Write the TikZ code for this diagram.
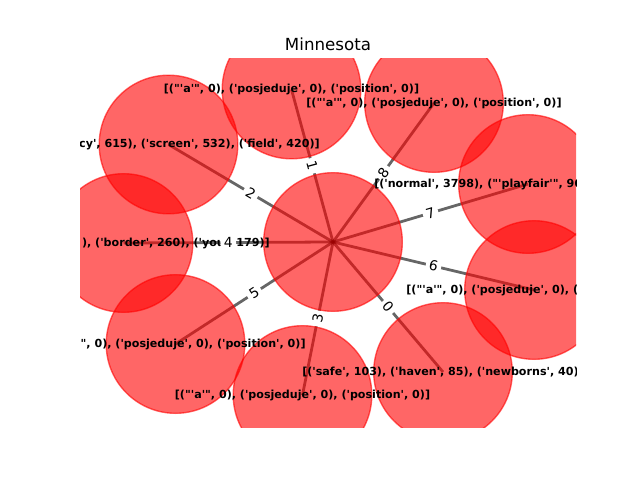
\documentclass[tikz,border=0pt]{standalone}
\usepackage{fontspec}
\newfontfamily\djv{DejaVu Sans}
\begin{document}
\begin{tikzpicture}[x=0.72pt,y=-0.72pt,
  edgeline/.style={draw=black,draw opacity=0.6,line width=2pt},
  nodecircle/.style={circle,minimum size=138.6*0.72pt,inner sep=0pt,fill=red,fill opacity=0.6,draw=red,draw opacity=0.6,line width=1pt},
  nodetext/.style={font=\djv\bfseries\fontsize{8}{9.6}\selectfont,inner sep=0pt,text=black},
  elabel/.style={font=\djv\fontsize{10}{12}\selectfont,fill=white,rounded corners=2pt,inner xsep=2.4pt,inner ysep=1pt,sloped,midway,text=black}]
\useasboundingbox (0,0) rectangle (640,480);
\node[font=\djv\fontsize{12}{14.4}\selectfont] (title) at (328,44) {Minnesota};
\begin{scope}
\clip (80,58) rectangle (576,427);
% node positions
\coordinate (C) at (333,242);
\coordinate (n0) at (443,372);
\coordinate (n1) at (291.5,89.5);
\coordinate (n2) at (168.5,144.5);
\coordinate (n3) at (302.5,395);
\coordinate (n4) at (123.5,243);
\coordinate (n5) at (175.5,344);
\coordinate (n6) at (534,290);
\coordinate (n7) at (528,184);
\coordinate (n8) at (434,103);
% edges
\foreach \i in {0,...,8} { \draw[edgeline] (C) -- (n\i); }
% circles
\node[nodecircle] (cC) at (C) {};
\foreach \i in {0,...,8} { \node[nodecircle] (c\i) at (n\i) {}; }
% edge labels (all but 4)
\foreach \i in {0,1,2,3,5,6,7,8} { \path (C) -- (n\i) node[elabel] (e\i) {\i}; }
% node labels
\def\stdtext{[("'a'", 0), ('posjeduje', 0), ('position', 0)]}
\node[nodetext] (t0) at (n0) {[('safe', 103), ('haven', 85), ('newborns', 40)]};
\node[nodetext] (t1) at (n1) {\stdtext};
\node[nodetext,anchor=east] (t2) at (320,144.5) {cy', 615), ('screen', 532), ('field', 420)]};
\node[nodetext] (t3) at (n3) {\stdtext};
\node[nodetext,anchor=east] (t4) at (270,243) {), ('border', 260), ('you', 179)]};
\node[nodetext] (t5) at (178,344) {\stdtext};
\node[nodetext] (t6) at (n6) {\stdtext};
\node[nodetext,anchor=west] (t7) at (374,184) {[('normal', 3798), ("'playfair'", 96};
\node[nodetext] (t8) at (n8) {\stdtext};
% edge label 4 lies over its text, as in the reference
\path (C) -- (n4) node[elabel] (e4) {4};
\end{scope}
\end{tikzpicture}
\end{document}
